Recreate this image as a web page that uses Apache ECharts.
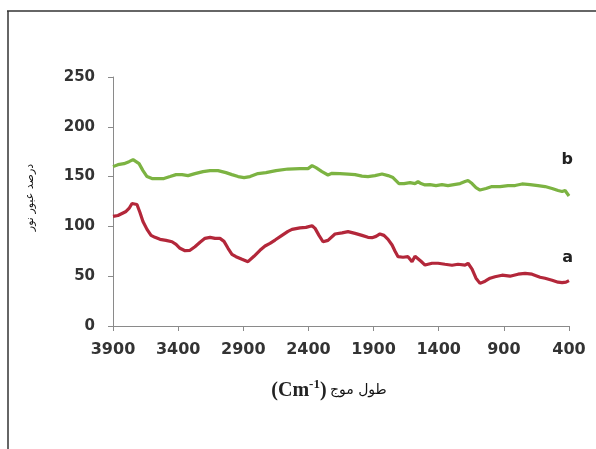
<!DOCTYPE html>
<html>
<head>
<meta charset="utf-8">
<script src="https://cdn.jsdelivr.net/npm/echarts@6/dist/echarts.min.js"></script>
<style>
  html, body { margin: 0; padding: 0; background: #fff; }
  #chart { width: 596px; height: 449px; }
</style>
</head>
<body>
<div id="chart"></div>
<script>
// wavenumber ticks (cm-1), shown right-to-left
const xTicks = [3900, 3400, 2900, 2400, 1900, 1400, 900, 400]
const yTicks = [0, 50, 100, 150, 200, 250]

// curve b (green)
const bWn = [3900, 3862, 3816, 3777, 3746, 3723, 3700, 3670, 3639, 3601, 3555, 3509, 3462, 3416, 3370, 3324, 3271, 3209, 3155, 3094, 3033, 2987, 2940, 2894, 2848, 2787, 2726, 2649, 2557, 2465, 2403, 2372, 2342, 2296, 2250, 2219, 2158, 2096, 2042, 1989, 1943, 1889, 1835, 1789, 1751, 1728, 1705, 1666, 1620, 1582, 1559, 1536, 1505, 1467, 1421, 1375, 1329, 1283, 1236, 1198, 1175, 1144, 1114, 1083, 1037, 991, 929, 868, 814, 760, 699, 638, 584, 530, 484, 453, 430, 400]
const bT = [160, 162, 163, 165, 167, 165, 163, 156, 150, 148, 148, 148, 150, 152, 152, 151, 153, 155, 156, 156, 154, 152, 150, 149, 150, 153, 154, 156, 157.6, 158, 158, 161, 159, 155, 151.6, 153.3, 153, 152.5, 152, 150.5, 150, 151, 152.6, 151, 149, 146, 143, 143, 144, 143, 145, 143, 141.6, 142, 141, 142, 141, 142, 143, 145, 146, 143, 139, 136.5, 138, 140, 140, 141, 141, 142.6, 142, 141, 140, 138, 136, 135, 136, 130.5]

// curve a (red)
const aWn = [3900, 3862, 3831, 3800, 3777, 3754, 3739, 3716, 3693, 3670, 3639, 3608, 3578, 3539, 3493, 3447, 3416, 3386, 3347, 3309, 3271, 3232, 3194, 3155, 3117, 3079, 3048, 3017, 2987, 2956, 2910, 2864, 2818, 2772, 2733, 2695, 2656, 2603, 2557, 2526, 2465, 2419, 2372, 2349, 2319, 2288, 2250, 2196, 2142, 2096, 2042, 1989, 1943, 1912, 1881, 1851, 1820, 1789, 1758, 1735, 1712, 1674, 1636, 1620, 1605, 1582, 1567, 1536, 1505, 1451, 1405, 1352, 1298, 1252, 1198, 1175, 1144, 1114, 1083, 1044, 1006, 968, 914, 853, 791, 737, 684, 622, 584, 530, 484, 453, 423, 400]
const aT = [110, 111, 113, 115, 118, 123, 125, 122, 114, 105, 97, 91, 89, 87, 86, 84.6, 82, 78, 75.6, 76, 79.6, 84, 88, 89, 88, 88, 85, 78, 72, 69.6, 67, 64.6, 70, 76, 80.3, 83, 86.3, 91, 95, 97, 98.5, 99, 100.7, 98, 91, 84.6, 86, 92.4, 93.5, 94.7, 93, 91, 89, 88.7, 90, 92.4, 91, 87, 81.3, 75, 69.6, 69, 69.6, 67, 64.6, 70, 71.3, 65, 61.2, 63, 63, 62, 61, 62, 61.2, 63, 57, 48, 42.8, 45, 48, 49.5, 51, 50, 52, 52.9, 52, 49, 47.9, 46, 44, 43.5, 44, 45.5]

const chart = echarts.init(document.getElementById('chart'))

chart.setOption({
  animation: false,
  grid: { left: 113, right: 27, top: 77, bottom: 123 },
  graphic: [
    { type: 'line', shape: { x1: 7, y1: 11, x2: 596, y2: 11 }, style: { stroke: '#333', lineWidth: 1.5 } },
    { type: 'line', shape: { x1: 8, y1: 11, x2: 8, y2: 449 }, style: { stroke: '#333', lineWidth: 1.5 } }
  ],
  xAxis: {
    type: 'value',
    inverse: true,
    min: xTicks[xTicks.length - 1],
    max: xTicks[0],
    interval: 500,
    splitLine: { show: false },
    axisLine: { lineStyle: { color: '#8a8a8a', width: 1 } },
    axisTick: { length: 5, lineStyle: { color: '#8a8a8a' } },
    axisLabel: {
      margin: 16, formatter: v => String(v),
      fontFamily: 'DejaVu Sans', fontWeight: 'bold', fontSize: 16, color: '#333'
    },
    name: '{b|(Cm}{s|-1}{b|)} {ar|طول موج}',
    nameLocation: 'middle',
    nameGap: 52,
    nameTextStyle: {
      padding: [0, 24, 0, 0],
      rich: {
        b: { fontFamily: 'Liberation Serif', fontWeight: 'bold', fontSize: 20, color: '#222' },
        s: { fontFamily: 'Liberation Serif', fontWeight: 'bold', fontSize: 13, color: '#222', verticalAlign: 'top', padding: [0, 0, 12, 0] },
        ar: { fontFamily: 'DejaVu Sans', fontWeight: 'normal', fontSize: 14, color: '#111' }
      }
    }
  },
  yAxis: {
    type: 'value',
    min: yTicks[0],
    max: yTicks[yTicks.length - 1],
    interval: 50,
    splitLine: { show: false },
    axisLine: { show: true, lineStyle: { color: '#8a8a8a', width: 1 } },
    axisTick: { show: true, length: 5, lineStyle: { color: '#8a8a8a' } },
    axisLabel: { margin: 18, fontFamily: 'DejaVu Sans', fontWeight: 'bold', fontSize: 15, color: '#333' },
    name: 'درصد عبور نور',
    nameLocation: 'middle',
    nameGap: 77,
    nameTextStyle: { fontFamily: 'DejaVu Sans', fontWeight: 'normal', fontSize: 11, color: '#111', padding: [0, 0, 0, 8] }
  },
  series: [
    {
      name: 'b',
      type: 'line',
      showSymbol: false,
      data: bWn.map((w, i) => [w, bT[i]]),
      lineStyle: { color: '#7cb342', width: 3.2 },
      endLabel: { show: true, formatter: 'b', offset: [12, -36], fontFamily: 'DejaVu Sans', fontWeight: 'bold', fontSize: 16, color: '#222' }
    },
    {
      name: 'a',
      type: 'line',
      showSymbol: false,
      data: aWn.map((w, i) => [w, aT[i]]),
      lineStyle: { color: '#b3273a', width: 3.2 },
      endLabel: { show: true, formatter: 'a', offset: [12, -23], fontFamily: 'DejaVu Sans', fontWeight: 'bold', fontSize: 16, color: '#222' }
    }
  ]
})
</script>
</body>
</html>
